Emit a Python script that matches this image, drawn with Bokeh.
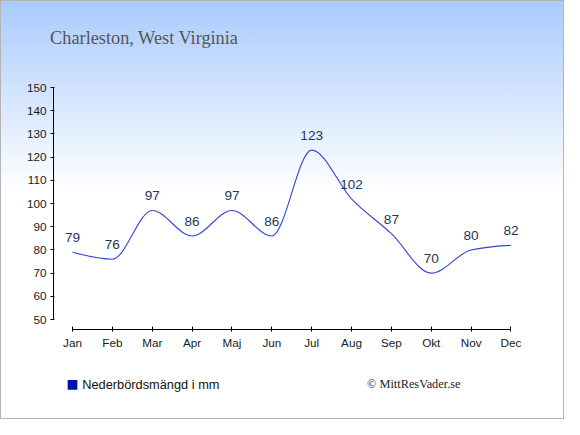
from bokeh.plotting import figure
from bokeh.layouts import column
from bokeh.models import Range1d, FixedTicker
from bokeh.core.properties import value
from bokeh.embed import file_html
from bokeh.resources import INLINE

months = ["Jan", "Feb", "Mar", "Apr", "Maj", "Jun", "Jul", "Aug", "Sep", "Okt", "Nov", "Dec"]
precip = [79, 76, 97, 86, 97, 86, 123, 102, 87, 70, 80, 82]
y_ticks = [50, 60, 70, 80, 90, 100, 110, 120, 130, 140, 150]
title_text = "Charleston, West Virginia"
legend_text = "Nederbördsmängd i mm"
credit_text = "© MittResVader.se"

xs = list(range(len(months)))

# monotone cubic (curveMonotoneX style) tangents -> bezier control points
def sign(v):
    return (v > 0) - (v < 0)

n = len(xs)
t = [0.0] * n
for i in range(1, n - 1):
    h0 = xs[i] - xs[i - 1]
    h1 = xs[i + 1] - xs[i]
    s0 = (precip[i] - precip[i - 1]) / h0
    s1 = (precip[i + 1] - precip[i]) / h1
    pp = (s0 * h1 + s1 * h0) / (h0 + h1)
    t[i] = (sign(s0) + sign(s1)) * min(abs(s0), abs(s1), 0.5 * abs(pp))
t[0] = (3 * (precip[1] - precip[0]) / (xs[1] - xs[0]) - t[1]) / 2
t[-1] = (3 * (precip[-1] - precip[-2]) / (xs[-1] - xs[-2]) - t[-2]) / 2

bx0, by0, bx1, by1, cx0, cy0, cx1, cy1 = [], [], [], [], [], [], [], []
for i in range(n - 1):
    dx = (xs[i + 1] - xs[i]) / 3
    bx0.append(xs[i]); by0.append(precip[i])
    bx1.append(xs[i + 1]); by1.append(precip[i + 1])
    cx0.append(xs[i] + dx); cy0.append(precip[i] + dx * t[i])
    cx1.append(xs[i + 1] - dx); cy1.append(precip[i + 1] - dx * t[i + 1])

W = 562
TOP_H = 72
BOT_H = 59


def strip(h):
    f = figure(width=W, height=h, output_backend="svg", toolbar_location=None,
               x_range=Range1d(0, W), y_range=Range1d(h, 0),
               x_axis_location=None, y_axis_location=None,
               min_border=0, min_border_left=0, min_border_right=0,
               min_border_top=0, min_border_bottom=0)
    f.frame_align = False
    f.background_fill_alpha = 0
    f.border_fill_alpha = 0
    f.outline_line_color = None
    f.grid.visible = False
    return f


# --- title strip ---
top = strip(TOP_H)
top.text(x=[48.6], y=[36.3], text=[title_text], text_font=value("Liberation Serif"),
         text_font_size="18.3px", text_color="#555555", text_baseline="alphabetic",
         text_align="left")

# --- main chart ---
p = figure(width=W, height=286, output_backend="svg", toolbar_location=None,
           x_range=Range1d(-0.4767, 11.39), y_range=Range1d(45.7, 150),
           min_border_left=52, min_border_right=37, min_border_top=14, min_border_bottom=30)
p.frame_align = False
p.background_fill_alpha = 0
p.border_fill_alpha = 0
p.outline_line_color = None
p.grid.visible = False

p.xaxis.bounds = (0, 11)
p.xaxis.ticker = FixedTicker(ticks=xs)
p.xaxis.major_label_overrides = {i: m for i, m in enumerate(months)}
p.yaxis.bounds = (50, 150)
p.yaxis.ticker = FixedTicker(ticks=y_ticks)
for ax in (p.xaxis, p.yaxis):
    ax.axis_line_color = "black"
    ax.major_tick_line_color = "black"
    ax.minor_tick_line_color = None
    ax.major_label_text_font = "Liberation Sans"
    ax.major_label_text_font_size = "11.7px"
    ax.major_label_text_color = "#1a1a1a"
p.xaxis.major_tick_in = 3
p.xaxis.major_tick_out = 2
p.xaxis.major_label_standoff = 4
p.yaxis.major_tick_in = 1
p.yaxis.major_tick_out = 3
p.yaxis.major_label_standoff = 4

p.bezier(x0=bx0, y0=by0, x1=bx1, y1=by1, cx0=cx0, cy0=cy0, cx1=cx1, cy1=cy1,
         line_color="#3344cc", line_width=1.1)

p.text(x=xs, y=precip, text=[str(v) for v in precip], text_align="center",
       text_baseline="bottom", y_offset=-10, text_font=value("Liberation Sans"),
       text_font_size="13.6px", text_color="#253858")

# --- legend / credit strip ---
bot = strip(BOT_H)
bot.scatter(x=[71.0], y=[25.3], marker="square", size=9.7, fill_color="#0011aa",
            line_color=None)
bot.text(x=[80.7], y=[25.3], text=[legend_text], text_font=value("Liberation Sans"),
         text_font_size="12.8px", text_color="#111111", text_baseline="middle",
         text_align="left")
bot.text(x=[365.6], y=[24.4], text=[credit_text], text_font=value("Liberation Serif"),
         text_font_size="12.3px", text_color="#222222", text_baseline="middle",
         text_align="left")

layout = column(top, p, bot, spacing=0)
layout.styles = {"background-image": "linear-gradient(to bottom, #a9cbfe 0px, #ffffff 190px, #ffffff 100%)",
                 "border": "1px solid #b4b4b4"}

open("out.html", "w").write(file_html(layout, INLINE))
